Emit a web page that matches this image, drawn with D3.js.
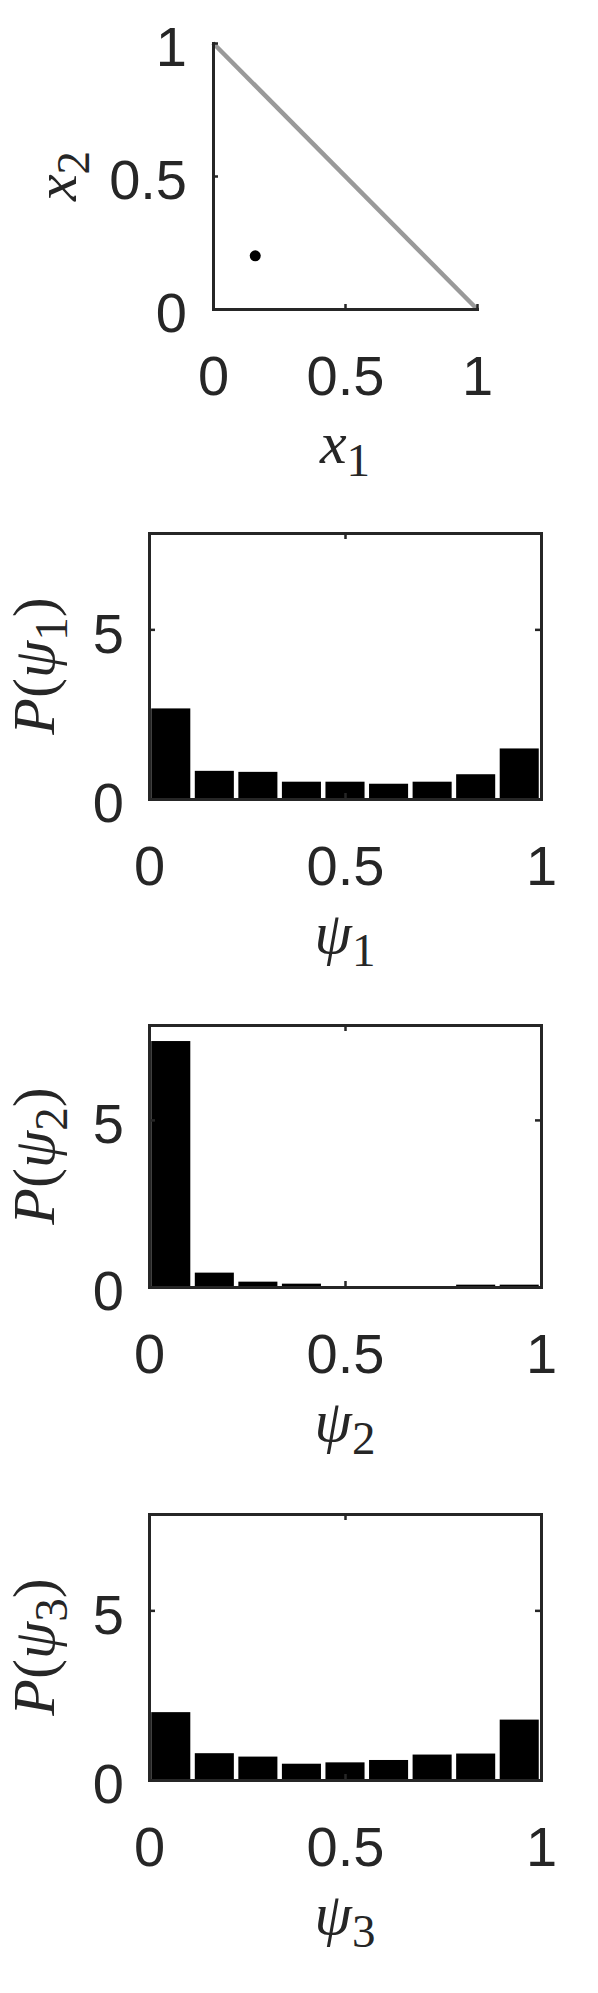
<!DOCTYPE html>
<html>
<head>
<meta charset="utf-8">
<script src="https://cdn.jsdelivr.net/npm/d3@7"></script>
<style>
  body { margin: 0; background: #fff; }
</style>
</head>
<body>
<script>
// simplex panel
const simplexEdge = [[0, 1], [1, 0]]
const samplePoint = [0.16, 0.2]
const triTicks = [0, 0.5, 1]

// histograms (9 bins on [0,1])
const binEdges = [0, 0.1111, 0.2222, 0.3333, 0.4444, 0.5556, 0.6667, 0.7778, 0.8889, 1]
const psi1 = [2.67, 0.83, 0.80, 0.51, 0.51, 0.45, 0.51, 0.73, 1.49]
const psi2 = [7.36, 0.43, 0.16, 0.10, 0.02, 0.02, 0.02, 0.07, 0.07]
const psi3 = [2.00, 0.79, 0.69, 0.48, 0.52, 0.59, 0.75, 0.78, 1.78]
const xTicks = [0, 0.5, 1]
const yTicks = [0, 5]
const yMax = 7.84

const ink = '#262626'
const tickFont = 'Liberation Sans, Arial, Helvetica, sans-serif'
const labelFont = 'Liberation Serif, Times New Roman, DejaVu Serif, serif'

const svg = d3.select('body').append('svg')
    .attr('width', 598)
    .attr('height', 1993)
    .style('background-color', 'white')

// styles an axis group like matlab
function styleAxis(g) {
    g.attr('color', ink)
        .attr('font-size', 56)
        .attr('font-family', tickFont)
    g.selectAll('.domain').attr('stroke-width', 3).attr('stroke-linecap', 'square')
    g.selectAll('.tick line').attr('stroke-width', 2.5)
    g.selectAll('.tick text').attr('fill', ink)
}

// label with italic symbol + subscript, optional wrapping P( )
function mathLabel(sel, sym, sub, wrapP) {
    const t = sel.append('text')
        .attr('font-family', labelFont)
        .attr('font-size', 60)
        .attr('fill', ink)
        .attr('text-anchor', 'middle')
    if (wrapP) {
        t.append('tspan').attr('font-style', 'italic').text('P')
        t.append('tspan').text('(')
    }
    t.append('tspan').attr('font-style', 'italic').text(sym)
    t.append('tspan').attr('font-size', 47).attr('dy', 13).text(sub)
    if (wrapP) {
        t.append('tspan').attr('dy', -13).text(')')
    }
    return t
}

//---------- triangle panel
const tx = d3.scaleLinear().domain([0, 1]).range([213, 477])
const ty = d3.scaleLinear().domain([0, 1]).range([309, 43])
const tri = svg.append('g')

tri.append('path')
    .datum(simplexEdge)
    .attr('d', d3.line().x(d => tx(d[0])).y(d => ty(d[1])))
    .attr('stroke', '#999999')
    .attr('stroke-width', 4.5)
    .attr('fill', 'none')

tri.append('circle')
    .attr('cx', tx(samplePoint[0]))
    .attr('cy', ty(samplePoint[1]))
    .attr('r', 5.5)
    .attr('fill', 'black')

tri.append('g')
    .attr('transform', `translate(0,${ty(0)})`)
    .call(d3.axisBottom(tx).tickValues(triTicks).tickSizeInner(-5).tickSizeOuter(0).tickPadding(46).tickFormat(d => d))
    .call(styleAxis)

tri.append('g')
    .attr('transform', `translate(${tx(0)},0)`)
    .call(d3.axisLeft(ty).tickValues(triTicks).tickSizeInner(-5).tickSizeOuter(0).tickPadding(26).tickFormat(d => d))
    .call(styleAxis)
    .selectAll('.tick text').attr('dy', '0.41em')

mathLabel(tri, 'x', '1', false)
    .attr('x', (tx(0) + tx(1)) / 2)
    .attr('y', ty(0) + 154)

mathLabel(tri, 'x', '2', false)
    .attr('transform', `translate(76,${(ty(0) + ty(1)) / 2}) rotate(-90)`)

//---------- histogram panels
const panels = [
    { values: psi1, sub: '1', top: 533, bottom: 799 },
    { values: psi2, sub: '2', top: 1025, bottom: 1287 },
    { values: psi3, sub: '3', top: 1514, bottom: 1780 }
]
const gap = 4.5

panels.forEach(p => {
    const x = d3.scaleLinear().domain([0, 1]).range([149, 541])
    const y = d3.scaleLinear().domain([0, yMax]).range([p.bottom, p.top])
    const g = svg.append('g')

    const bins = p.values.map((v, i) => ({ x0: binEdges[i], x1: binEdges[i + 1], v: v }))
    g.selectAll('rect.bar')
        .data(bins)
        .enter()
        .append('rect')
        .attr('class', 'bar')
        .attr('x', d => x(d.x0) + gap / 2)
        .attr('width', d => x(d.x1) - x(d.x0) - gap)
        .attr('y', d => y(d.v))
        .attr('height', d => y(0) - y(d.v))
        .attr('fill', 'black')

    g.append('g')
        .attr('transform', `translate(0,${p.bottom})`)
        .call(d3.axisBottom(x).tickValues(xTicks).tickSizeInner(-6).tickSizeOuter(0).tickPadding(46).tickFormat(d => d))
        .call(styleAxis)
    g.append('g')
        .attr('transform', `translate(0,${p.top})`)
        .call(d3.axisTop(x).tickValues(xTicks).tickSizeInner(-6).tickSizeOuter(0).tickFormat(''))
        .call(styleAxis)
    g.append('g')
        .attr('transform', `translate(149,0)`)
        .call(d3.axisLeft(y).tickValues(yTicks).tickSizeInner(-6).tickSizeOuter(0).tickPadding(25).tickFormat(d => d))
        .call(styleAxis)
        .selectAll('.tick text').attr('dy', '0.41em')
    g.append('g')
        .attr('transform', `translate(541,0)`)
        .call(d3.axisRight(y).tickValues(yTicks).tickSizeInner(-6).tickSizeOuter(0).tickFormat(''))
        .call(styleAxis)

    mathLabel(g, 'ψ', p.sub, false)
        .attr('x', 345)
        .attr('y', p.bottom + 154)

    mathLabel(g, 'ψ', p.sub, true)
        .attr('transform', `translate(54,${(p.top + p.bottom) / 2}) rotate(-90)`)
})
</script>
</body>
</html>
